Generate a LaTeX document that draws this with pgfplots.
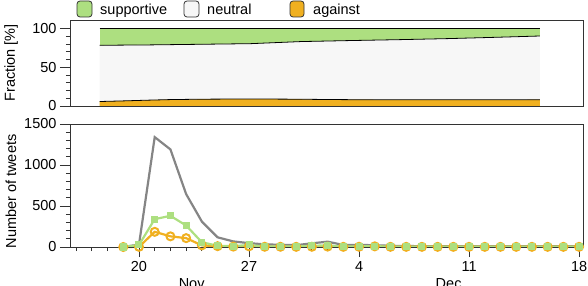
\documentclass[border=0pt]{standalone}
\usepackage{fontspec}
\setmainfont{Liberation Sans}
\usepackage{pgfplots}
\pgfplotsset{compat=1.18}
\definecolor{supp}{HTML}{ADDF80}
\definecolor{neut}{HTML}{F7F7F7}
\definecolor{agst}{HTML}{F0B020}
\definecolor{grayline}{HTML}{858585}
\definecolor{spine}{HTML}{333333}
\pgfplotsset{common/.style={
  scale only axis, width=513bp,
  xmin=15.61, xmax=48.25,
  axis line style={spine, line width=0.9pt},
  tick style={spine, line width=0.9pt},
  major tick length=10bp, minor tick length=4bp,
  tick align=outside,
  xtick pos=bottom, ytick pos=left,
  /pgf/number format/assume math mode=true,
  /pgf/number format/1000 sep={},
  tick label style={font=\fontsize{14.5bp}{17bp}\selectfont},
  label style={font=\fontsize{14.5bp}{17bp}\selectfont},
  minor y tick num=4,
}}
\begin{document}
\begin{tikzpicture}[font=\fontsize{14.5bp}{17bp}\selectfont]
% top: fractions
\begin{axis}[common, at={(70bp,180bp)}, anchor=south west,
  height=86bp, ymin=0, ymax=111.2,
  ytick={0,50,100}, xtick=\empty,
  ylabel={Fraction [\%]},
  ylabel style={at={(axis description cs:-0.1150,0.5)}, rotate=0, anchor=center}]
\addplot[fill=supp, draw=none] coordinates {(17.5,100) (45.5,100)} \closedcycle;
\addplot[fill=neut, draw=none] coordinates {(17.5,78.5) (20.7,79) (23.9,79.8) (27.1,80.6) (30.3,83.3) (33.4,84.6) (36.6,85.8) (39.8,87.2) (43,89) (45.5,90.5)} \closedcycle;
\addplot[fill=agst, draw=none] coordinates {(17.5,5.8) (19,6.6) (20.5,7.5) (22,8.3) (24,8.8) (26,9) (28,9) (30,8.8) (32,8.4) (34,8.1) (38,8) (42,8) (45.5,8.1)} \closedcycle;
\addplot[black, line width=0.8pt] coordinates {(17.5,100) (45.5,100)};
\addplot[black, line width=0.8pt] coordinates {(17.5,78.5) (20.7,79) (23.9,79.8) (27.1,80.6) (30.3,83.3) (33.4,84.6) (36.6,85.8) (39.8,87.2) (43,89) (45.5,90.5)};
\addplot[black, line width=0.8pt] coordinates {(17.5,5.8) (19,6.6) (20.5,7.5) (22,8.3) (24,8.8) (26,9) (28,9) (30,8.8) (32,8.4) (34,8.1) (38,8) (42,8) (45.5,8.1)};
\end{axis}
% bottom: counts
\begin{axis}[common, at={(70bp,39bp)}, anchor=south west,
  height=123bp, ymin=0, ymax=1500,
  ytick={0,500,1000,1500},
  xtick={20,27,34,41,48}, xticklabels={20,27,4,11,18},
  minor xtick={16,...,48},
  xticklabel style={yshift=-1bp},
  clip=false, axis on top,
  ylabel={Number of tweets},
  ylabel style={at={(axis description cs:-0.1150,0.452)}, rotate=0, anchor=center}]
\addplot[grayline, line width=2.2pt, no markers] coordinates {
(19,0) (20,30) (21,1340) (22,1190) (23,645) (24,310) (25,118) (26,68) (27,47) (28,32) (29,27) (30,22) (31,45) (32,65) (33,25) (34,25) (35,22) (36,15) (37,12) (38,10) (39,10) (40,8) (41,10) (42,10) (43,8) (44,10) (45,10) (46,8) (47,10) (48,10)};
\addplot[agst, line width=2.2pt, mark=o, mark size=4bp, mark options={fill=white, line width=2pt}] coordinates {
(19,0) (20,2) (21,185) (22,130) (23,108) (24,20) (25,10) (26,5) (27,8) (28,3) (29,3) (30,2) (31,3) (32,5) (33,2) (34,3) (35,8) (36,2) (37,2) (38,2) (39,2) (40,2) (41,2) (42,2) (43,2) (44,2) (45,2) (46,2) (47,2) (48,2)};
\addplot[supp, line width=2.2pt, mark=square*, mark size=3bp, mark options={line width=0pt}] coordinates {
(19,0) (20,25) (21,340) (22,380) (23,262) (24,58) (25,15) (26,10) (27,25) (28,5) (29,5) (30,5) (31,15) (32,20) (33,5) (34,8) (35,10) (36,5) (37,3) (38,3) (39,3) (40,3) (41,3) (42,3) (43,3) (44,3) (45,3) (46,3) (47,3) (48,3)};
\node[anchor=base] at (axis cs:23.35,0) [yshift=-41bp] {Nov};
\node[anchor=base] at (axis cs:39.7,0) [yshift=-41bp] {Dec};
\end{axis}
% legend
\draw[rounded corners=3bp, fill=supp, draw=spine, line width=0.8pt] (77bp,269bp) rectangle (92bp,285bp);
\node[anchor=base west, inner sep=0pt] at (100bp,271bp) {supportive};
\draw[rounded corners=3bp, fill=neut, draw=spine, line width=0.8pt] (184bp,269bp) rectangle (199bp,285bp);
\node[anchor=base west, inner sep=0pt] at (207bp,271bp) {neutral};
\draw[rounded corners=3bp, fill=agst, draw=spine, line width=0.8pt] (290bp,269bp) rectangle (304bp,285bp);
\node[anchor=base west, inner sep=0pt] at (313bp,271bp) {against};
\pgfresetboundingbox
\path[use as bounding box] (0,0) rectangle (588bp,286bp);
\end{tikzpicture}
\end{document}
